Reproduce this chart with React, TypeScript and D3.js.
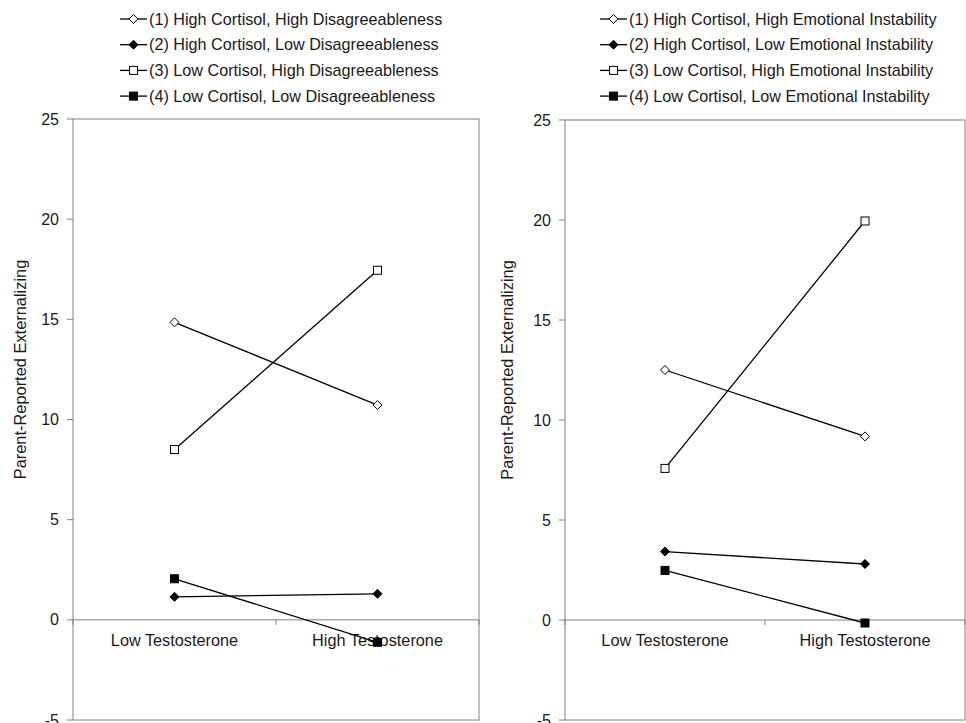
import React from "react";
import * as d3 from "d3";

const categories = ["Low Testosterone", "High Testosterone"];
const yTicks = [-5, 0, 5, 10, 15, 20, 25];

const leftLabels = [
  "(1) High Cortisol, High Disagreeableness",
  "(2) High Cortisol, Low Disagreeableness",
  "(3) Low Cortisol, High Disagreeableness",
  "(4) Low Cortisol, Low Disagreeableness",
];
const leftValues = [
  [14.85, 10.72],
  [1.15, 1.3],
  [8.5, 17.45],
  [2.05, -1.12],
];

const rightLabels = [
  "(1) High Cortisol, High Emotional Instability",
  "(2) High Cortisol, Low Emotional Instability",
  "(3) Low Cortisol, High Emotional Instability",
  "(4) Low Cortisol, Low Emotional Instability",
];
const rightValues = [
  [12.5, 9.18],
  [3.42, 2.8],
  [7.58, 19.95],
  [2.48, -0.15],
];

// marker style per series: shape + filled
const markers = [
  { shape: "diamond", filled: false },
  { shape: "diamond", filled: true },
  { shape: "square", filled: false },
  { shape: "square", filled: true },
];

const FONT = "Liberation Sans, Arial, sans-serif";
const AXIS = "#808080";
const TXT = "#1a1a1a";

function Marker({ x, y, i }: { x: number; y: number; i: number }) {
  const m = markers[i];
  const fill = m.filled ? "#000" : "#fff";
  if (m.shape === "diamond") {
    const r = 4.5;
    return (
      <path
        d={`M${x},${y - r}L${x + r},${y}L${x},${y + r}L${x - r},${y}Z`}
        fill={fill}
        stroke="#000"
        strokeWidth={1}
      />
    );
  }
  const s = 8;
  return <rect x={x - s / 2} y={y - s / 2} width={s} height={s} fill={fill} stroke="#000" strokeWidth={1} />;
}

function Panel({ ox, x0, x1, top, bottom, labels, values, legendX }: any) {
  const x = d3.scaleBand().domain(categories).range([x0, x1]);
  const y = d3.scaleLinear().domain([-5, 25]).range([bottom, top]);
  const line = d3
    .line<number>()
    .x((_, j) => (x(categories[j]) as number) + x.bandwidth() / 2)
    .y((d) => y(d));
  const mid = (top + bottom) / 2;

  return (
    <g>
      {/* plot border */}
      <rect x={x0} y={top} width={x1 - x0} height={bottom - top} fill="none" stroke={AXIS} strokeWidth={1} />
      {/* y ticks */}
      {yTicks.map((t) => (
        <g key={t}>
          <line x1={x0 - 6} x2={x0} y1={y(t)} y2={y(t)} stroke={AXIS} />
          <text x={x0 - 14} y={y(t)} dy="0.35em" textAnchor="end" fontSize={16} fontFamily={FONT} fill={TXT}>
            {t}
          </text>
        </g>
      ))}
      {/* x axis at zero */}
      <line x1={x0} x2={x1} y1={y(0)} y2={y(0)} stroke={AXIS} />
      {[x0, x0 + x.bandwidth(), x1].map((v, k) => (
        <line key={k} x1={v} x2={v} y1={y(0)} y2={y(0) + 5} stroke={AXIS} />
      ))}
      {categories.map((c) => (
        <text
          key={c}
          x={(x(c) as number) + x.bandwidth() / 2}
          y={y(0) + 26}
          textAnchor="middle"
          fontSize={16.3}
          fontFamily={FONT}
          fill={TXT}
        >
          {c}
        </text>
      ))}
      <text
        transform={`translate(${ox + 20},${mid - 50}) rotate(-90)`}
        textAnchor="middle"
        dy="0.35em"
        fontSize={16.4}
        fontFamily={FONT}
        fill={TXT}
      >
        Parent-Reported Externalizing
      </text>
      {/* series */}
      {values.map((vals: number[], i: number) => (
        <g key={i}>
          <path d={line(vals) as string} fill="none" stroke="#000" strokeWidth={1.3} />
          {vals.map((v, j) => (
            <Marker key={j} x={(x(categories[j]) as number) + x.bandwidth() / 2} y={y(v)} i={i} />
          ))}
        </g>
      ))}
      {/* legend */}
      {labels.map((l: string, i: number) => {
        const ly = 19 + i * 25.7;
        return (
          <g key={l}>
            <line x1={legendX} x2={legendX + 27} y1={ly} y2={ly} stroke="#000" strokeWidth={1.3} />
            <Marker x={legendX + 13.5} y={ly} i={i} />
            <text x={legendX + 29} y={ly} dy="0.35em" fontSize={16.2} fontFamily={FONT} fill={TXT}>
              {l}
            </text>
          </g>
        );
      })}
    </g>
  );
}

export default function App() {
  return (
    <svg
      width={966}
      height={723}
      style={{ position: "absolute", left: 0, top: 0, background: "#fff" }}
    >
      <rect width={966} height={723} fill="#fff" />
      <Panel ox={0} x0={73} x1={479} top={119} bottom={720} labels={leftLabels} values={leftValues} legendX={120} />
      <Panel ox={487} x0={565} x1={965} top={120} bottom={720} labels={rightLabels} values={rightValues} legendX={600} />
    </svg>
  );
}
